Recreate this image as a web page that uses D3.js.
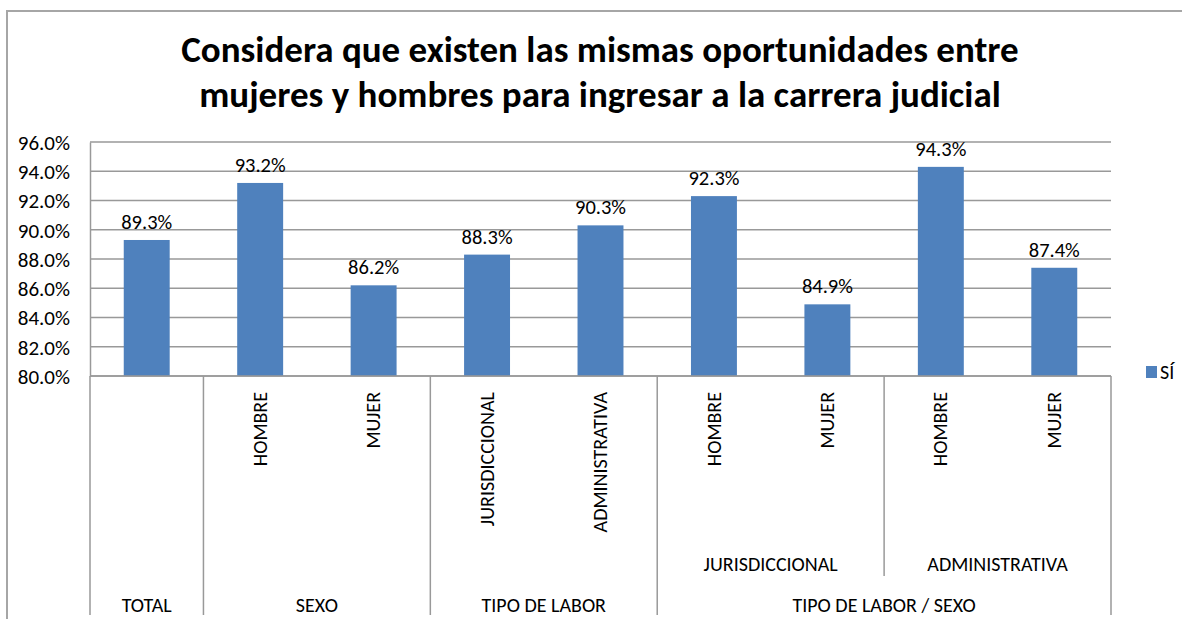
<!DOCTYPE html>
<html>
<head>
<meta charset="utf-8">
<script src="https://cdn.jsdelivr.net/npm/d3@7"></script>
<style>
  html, body { margin: 0; padding: 0; background: #fff; }
  svg { display: block; }
  text { font-family: Carlito, Lato, "Open Sans", sans-serif; fill: #000; }
</style>
</head>
<body>
<svg id="chart" width="1182" height="619"></svg>
<script>
// Values (%) for each bar, left to right
const values = [89.3, 93.2, 86.2, 88.3, 90.3, 92.3, 84.9, 94.3, 87.4];
// Innermost category labels (rotated, directly under the axis)
const leafLabels = ["", "HOMBRE", "MUJER", "JURISDICCIONAL", "ADMINISTRATIVA", "HOMBRE", "MUJER", "HOMBRE", "MUJER"];
// Middle level groups: [label, first index, count]
const midGroups = [["JURISDICCIONAL", 5, 2], ["ADMINISTRATIVA", 7, 2]];
// Outer level groups: [label, first index, count]
const topGroups = [["TOTAL", 0, 1], ["SEXO", 1, 2], ["TIPO DE LABOR", 3, 2], ["TIPO DE LABOR / SEXO", 5, 4]];
const yTicks = [80, 82, 84, 86, 88, 90, 92, 94, 96];
const seriesName = "SÍ";
const titleLines = [
  "Considera que existen las mismas oportunidades entre",
  "mujeres y hombres para ingresar a la carrera judicial"
];

const svg = d3.select("#chart");
const plot = { left: 90, right: 1111, top: 142, bottom: 376 };
const gridColor = "#999999";
const barColor = "#4F81BD";
const fontFamily = "Carlito, Lato, 'Open Sans', sans-serif";

const x = d3.scaleBand().domain(d3.range(values.length)).range([plot.left, plot.right]).padding(0);
const y = d3.scaleLinear().domain([80, 96]).range([plot.bottom, plot.top]);
const barW = x.bandwidth() * 0.405;

// Outer chart frame (left and top edges)
svg.append("path")
  .attr("d", `M7,619 L7,11 L1182,11`)
  .attr("fill", "none").attr("stroke", "#a6a6a6").attr("stroke-width", 2);

// Title
svg.append("g").selectAll("text").data(titleLines).join("text")
  .attr("x", 600).attr("y", (d, i) => 62 + i * 45)
  .attr("text-anchor", "middle")
  .attr("font-weight", "bold").attr("font-size", 37)
  .text(d => d);

// Horizontal gridlines
svg.append("g").selectAll("line").data(yTicks).join("line")
  .attr("x1", plot.left).attr("x2", plot.right)
  .attr("y1", d => y(d)).attr("y2", d => y(d))
  .attr("stroke", gridColor).attr("stroke-width", 1.5);

// Y axis
const yAxis = d3.axisLeft(y).tickValues(yTicks).tickSize(0).tickPadding(20)
  .tickFormat(d => d.toFixed(1) + "%");
const yg = svg.append("g").attr("transform", `translate(${plot.left},0)`).call(yAxis);
yg.select(".domain").attr("stroke", gridColor).attr("stroke-width", 1.5);
yg.selectAll("text").attr("font-size", 21).attr("dy", "0.35em").style("font-family", fontFamily);

// Bars
svg.append("g").selectAll("rect").data(values).join("rect")
  .attr("x", (d, i) => x(i) + (x.bandwidth() - barW) / 2)
  .attr("width", barW)
  .attr("y", d => y(d))
  .attr("height", d => y(80) - y(d))
  .attr("fill", barColor);

// Value labels
svg.append("g").selectAll("text").data(values).join("text")
  .attr("x", (d, i) => x(i) + x.bandwidth() / 2)
  .attr("y", d => y(d) - 11)
  .attr("text-anchor", "middle").attr("font-size", 20.5)
  .text(d => d.toFixed(1) + "%");

// Category axis: separators between groups
const cat = svg.append("g");
const bottomY = 615;
cat.append("line")
  .attr("x1", plot.left).attr("x2", plot.right)
  .attr("y1", plot.bottom).attr("y2", plot.bottom)
  .attr("stroke", gridColor).attr("stroke-width", 1.5);
const topBounds = [0].concat(topGroups.map(g => g[1] + g[2]));
cat.selectAll("line.top").data(topBounds).join("line").attr("class", "top")
  .attr("x1", i => i < values.length ? x(i) : plot.right)
  .attr("x2", i => i < values.length ? x(i) : plot.right)
  .attr("y1", plot.bottom).attr("y2", bottomY)
  .attr("stroke", gridColor).attr("stroke-width", 1.5);
const midBounds = midGroups.slice(1).map(g => g[1]);
cat.selectAll("line.mid").data(midBounds).join("line").attr("class", "mid")
  .attr("x1", i => x(i)).attr("x2", i => x(i))
  .attr("y1", plot.bottom).attr("y2", 576)
  .attr("stroke", gridColor).attr("stroke-width", 1.5);

// Rotated leaf labels
cat.selectAll("text.leaf").data(leafLabels).join("text").attr("class", "leaf")
  .attr("transform", (d, i) => `translate(${x(i) + x.bandwidth() / 2},392) rotate(-90)`)
  .attr("dy", "0.33em")
  .attr("text-anchor", "end").attr("font-size", 20)
  .text(d => d);

// Middle group labels
cat.selectAll("text.mid").data(midGroups).join("text").attr("class", "mid")
  .attr("x", g => x(g[1]) + x.bandwidth() * g[2] / 2)
  .attr("y", 571)
  .attr("text-anchor", "middle").attr("font-size", 20)
  .text(g => g[0]);

// Outer group labels
cat.selectAll("text.top").data(topGroups).join("text").attr("class", "top")
  .attr("x", g => x(g[1]) + x.bandwidth() * g[2] / 2)
  .attr("y", 612)
  .attr("text-anchor", "middle").attr("font-size", 20)
  .text(g => g[0]);

// Legend
const legend = svg.append("g").attr("transform", "translate(1146,366)");
legend.append("rect").attr("width", 11).attr("height", 12).attr("fill", barColor);
legend.append("text").attr("x", 14).attr("y", 6).attr("dy", "0.35em")
  .attr("font-size", 20).text(seriesName);
</script>
</body>
</html>
